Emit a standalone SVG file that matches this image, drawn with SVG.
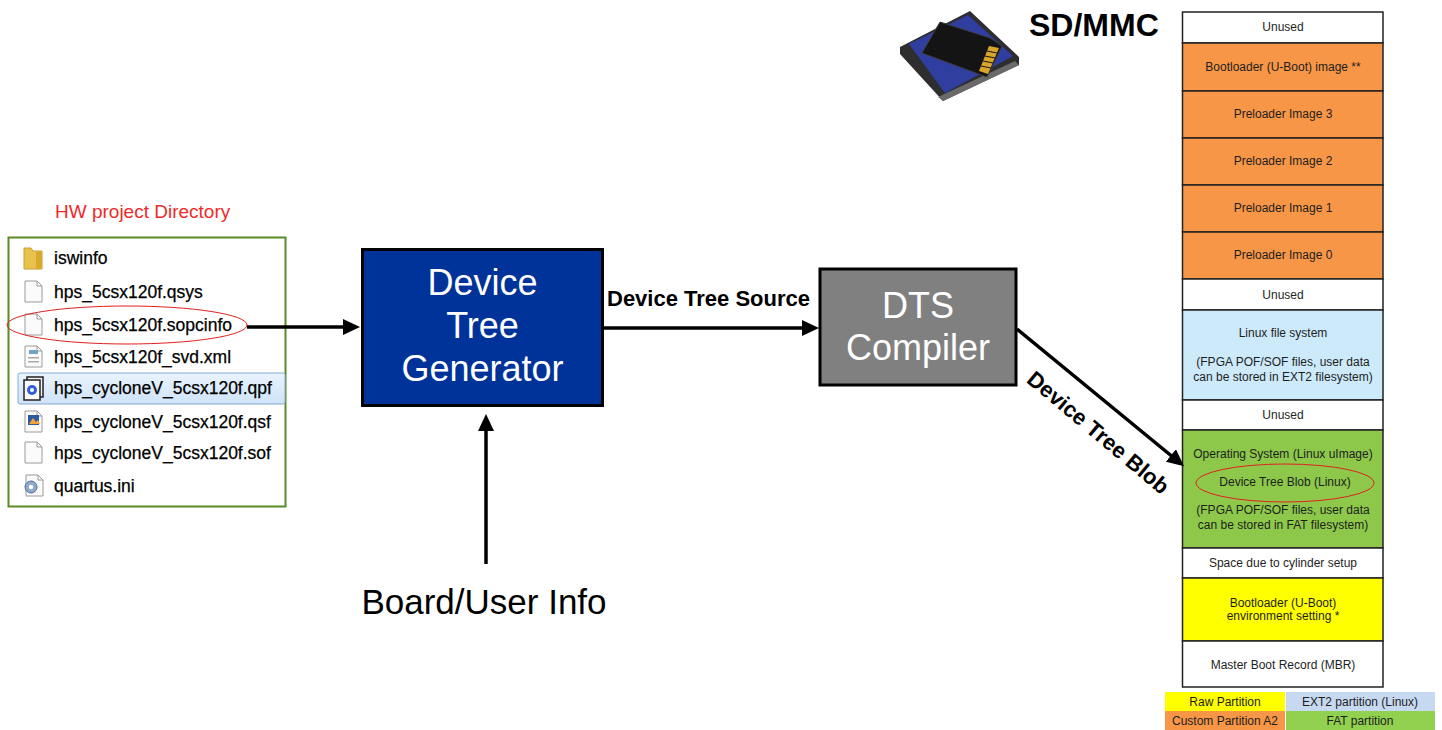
<svg xmlns="http://www.w3.org/2000/svg" width="1442" height="730" viewBox="0 0 1442 730">
  <style>
    .sans { font-family: "Liberation Sans", Arial, sans-serif; }
    .file { font-family: "Liberation Sans", Arial, sans-serif; font-size: 17.5px; fill: #000; stroke: #000; stroke-width: 0.25; }
    .big { font-family: "Liberation Sans", Arial, sans-serif; font-size: 36px; fill: #ffffff; text-anchor: middle; }
    .lbl { font-family: "Liberation Sans", Arial, sans-serif; font-size: 22px; font-weight: bold; fill: #000; }
    .cell { stroke: #222; stroke-width: 1.5; }
    .ct { font-family: "Liberation Sans", Arial, sans-serif; font-size: 12px; fill: #1e1e1e; text-anchor: middle; }
    .doc { fill: #fbfbfb; stroke: #9a9a9a; stroke-width: 1; }
    .conn { stroke: #000; stroke-width: 3.5; fill: none; marker-end: url(#arrow); }
  </style>
  <defs>
    <marker id="arrow" markerUnits="userSpaceOnUse" markerWidth="18" markerHeight="16" refX="4" refY="8" orient="auto">
      <path d="M0,0 L17,8 L0,16 z" fill="#000"/>
    </marker>
    <linearGradient id="sel" x1="0" y1="0" x2="0" y2="1">
      <stop offset="0" stop-color="#eaf3fd"/>
      <stop offset="1" stop-color="#cfe3f8"/>
    </linearGradient>
    <g id="docIcon">
      <path class="doc" d="M0,0 H12 L17,5 V21 H0 Z"/>
      <path d="M12,0 V5 H17" fill="none" stroke="#9a9a9a" stroke-width="1"/>
    </g>
  </defs>

  <rect width="1442" height="730" fill="#ffffff"/>

  <!-- HW project directory listing -->
  <g id="hw-project">
    <text class="sans" x="55" y="218" font-size="19" fill="#f02a2a">HW project Directory</text>
    <rect x="8.5" y="237.5" width="277" height="269" fill="#ffffff" stroke="#5b8c23" stroke-width="2"/>
    <rect x="18" y="373" width="267" height="31" rx="2" fill="url(#sel)" stroke="#86abd9" stroke-width="1"/>
    <!-- folder -->
    <path d="M24,248 h7 l2,3 h9 v18 h-18 z" fill="#e9c24c" stroke="#c9a036" stroke-width="1"/>
    <rect x="36" y="252" width="6" height="17" fill="#d9a92e"/>
    <text class="file" x="54" y="264">iswinfo</text>
    <use href="#docIcon" x="25" y="281"/>
    <text class="file" x="54" y="298">hps_5csx120f.qsys</text>
    <use href="#docIcon" x="25" y="314"/>
    <text class="file" x="54" y="331">hps_5csx120f.sopcinfo</text>
    <use href="#docIcon" x="25" y="346"/>
    <rect x="29" y="350" width="9" height="4" fill="#6fa3c7"/>
    <rect x="28" y="357" width="11" height="1.5" fill="#aaa"/>
    <rect x="28" y="361" width="11" height="1.5" fill="#aaa"/>
    <text class="file" x="54" y="363">hps_5csx120f_svd.xml</text>
    <rect x="27" y="377" width="16" height="20" fill="#f4f4f4" stroke="#222" stroke-width="1.5"/>
    <rect x="24" y="380" width="16" height="20" fill="#fafafa" stroke="#222" stroke-width="1.5"/>
    <circle cx="32" cy="390" r="5" fill="#2f5fd0"/>
    <circle cx="32" cy="390" r="2" fill="#ffffff"/>
    <text class="file" x="54" y="394">hps_cycloneV_5csx120f.qpf</text>
    <use href="#docIcon" x="25" y="411"/>
    <rect x="28" y="415" width="11" height="10" fill="#2d5a9e"/>
    <path d="M29,424 l4,-6 l3,4 l2,-2 l2,4 z" fill="#f2a23a"/>
    <text class="file" x="54" y="428">hps_cycloneV_5csx120f.qsf</text>
    <use href="#docIcon" x="25" y="442"/>
    <text class="file" x="54" y="459">hps_cycloneV_5csx120f.sof</text>
    <use href="#docIcon" x="26" y="475"/>
    <circle cx="31" cy="487" r="6" fill="#8fa9c9" stroke="#4e6f99" stroke-width="1"/>
    <circle cx="31" cy="487" r="2.2" fill="#ffffff"/>
    <text class="file" x="54" y="492">quartus.ini</text>
    <ellipse cx="127" cy="325" rx="120" ry="19" fill="none" stroke="#e02020" stroke-width="1"/>
  </g>

  <!-- generator block -->
  <g id="dt-generator">
    <rect x="362.5" y="249.5" width="240" height="156" fill="#003399" stroke="#000" stroke-width="3"/>
    <text class="big" x="482.5" y="295">Device</text>
    <text class="big" x="482.5" y="338">Tree</text>
    <text class="big" x="482.5" y="381">Generator</text>
  </g>

  <!-- compiler block -->
  <g id="dts-compiler">
    <rect x="820" y="269" width="196" height="116" fill="#808080" stroke="#000" stroke-width="3"/>
    <text class="big" x="918" y="318">DTS</text>
    <text class="big" x="918" y="360">Compiler</text>
  </g>

  <g id="board-info">
    <text class="sans" x="484" y="614" font-size="35" text-anchor="middle" fill="#000">Board/User Info</text>
  </g>

  <!-- memory card picture: CF card with an SD card lying on it -->
  <g id="sd-card">
    <path d="M900,47 L970,11 L1019,57 L1019,65 L943,101 L900,54 Z" fill="#2e2e2e"/>
    <path d="M909,44 L968,15 L1013,56 L945,93 Z" fill="#2f3e9f"/>
    <path d="M938,97 L1015,61 L1019,65 L943,101 Z" fill="#6a6a6a"/>
    <path d="M922,53 L940,22 L990,38 L1002,46 L987,77 Z" fill="#141414" stroke="#3a3a3a" stroke-width="1"/>
    <path d="M989,46 L999,48 L988,74 L979,71 Z" fill="#d8a42a"/>
    <path d="M987,51 L997,53 M985,56 L995,58 M983,61 L993,63 M981,66 L991,68" stroke="#141414" stroke-width="1"/>
    <text class="sans" x="1029" y="36" font-size="32" font-weight="bold" fill="#000">SD/MMC</text>
  </g>

  <!-- card layout column -->
  <g id="card-layout">
    <rect class="cell" x="1182.5" y="12" width="200.5" height="31" fill="#ffffff"/>
    <rect class="cell" x="1182.5" y="43" width="200.5" height="48" fill="#f79646"/>
    <rect class="cell" x="1182.5" y="91" width="200.5" height="47" fill="#f79646"/>
    <rect class="cell" x="1182.5" y="138" width="200.5" height="47" fill="#f79646"/>
    <rect class="cell" x="1182.5" y="185" width="200.5" height="47" fill="#f79646"/>
    <rect class="cell" x="1182.5" y="232" width="200.5" height="47" fill="#f79646"/>
    <rect class="cell" x="1182.5" y="279" width="200.5" height="31" fill="#ffffff"/>
    <rect class="cell" x="1182.5" y="310" width="200.5" height="90" fill="#cdeafb"/>
    <rect class="cell" x="1182.5" y="400" width="200.5" height="30" fill="#ffffff"/>
    <rect class="cell" x="1182.5" y="430" width="200.5" height="118" fill="#8dc84a"/>
    <rect class="cell" x="1182.5" y="548" width="200.5" height="30" fill="#ffffff"/>
    <rect class="cell" x="1182.5" y="578" width="200.5" height="63" fill="#ffff00"/>
    <rect class="cell" x="1182.5" y="641" width="200.5" height="46" fill="#ffffff"/>

    <text class="ct" x="1283" y="31">Unused</text>
    <text class="ct" x="1283" y="71">Bootloader (U-Boot) image **</text>
    <text class="ct" x="1283" y="118">Preloader Image 3</text>
    <text class="ct" x="1283" y="165">Preloader Image 2</text>
    <text class="ct" x="1283" y="212">Preloader Image 1</text>
    <text class="ct" x="1283" y="259">Preloader Image 0</text>
    <text class="ct" x="1283" y="299">Unused</text>
    <text class="ct" x="1283" y="337">Linux file system</text>
    <text class="ct" x="1283" y="366">(FPGA POF/SOF files, user data</text>
    <text class="ct" x="1283" y="381">can be stored in EXT2 filesystem)</text>
    <text class="ct" x="1283" y="419">Unused</text>
    <text class="ct" x="1283" y="458">Operating System (Linux uImage)</text>
    <text class="ct" x="1285" y="486">Device Tree Blob (Linux)</text>
    <text class="ct" x="1283" y="514">(FPGA POF/SOF files, user data</text>
    <text class="ct" x="1283" y="529">can be stored in FAT filesystem)</text>
    <ellipse cx="1285" cy="483" rx="89" ry="19" fill="none" stroke="#e02020" stroke-width="1"/>
    <text class="ct" x="1283" y="567">Space due to cylinder setup</text>
    <text class="ct" x="1283" y="607">Bootloader (U-Boot)</text>
    <text class="ct" x="1283" y="620">environment setting *</text>
    <text class="ct" x="1283" y="669">Master Boot Record (MBR)</text>
  </g>

  <!-- colour key -->
  <g id="legend">
    <rect x="1165" y="692" width="120" height="19" fill="#ffff00"/>
    <rect x="1286" y="692" width="149" height="19" fill="#c6d9f1"/>
    <rect x="1165" y="711" width="120" height="19" fill="#f79646"/>
    <rect x="1286" y="711" width="149" height="19" fill="#92d050"/>
    <text class="ct" x="1225" y="706">Raw Partition</text>
    <text class="ct" x="1360" y="706">EXT2 partition (Linux)</text>
    <text class="ct" x="1225" y="725">Custom Partition A2</text>
    <text class="ct" x="1360" y="725">FAT partition</text>
  </g>

  <!-- connectors -->
  <g id="connectors">
    <line class="conn" x1="247" y1="327" x2="347" y2="327"/>
    <line class="conn" x1="486" y1="564" x2="486" y2="427"/>
    <line class="conn" x1="604" y1="328" x2="806" y2="328"/>
    <line class="conn" x1="1017" y1="329" x2="1174" y2="458"/>
    <text class="lbl" x="607" y="306">Device Tree Source</text>
    <text class="lbl" transform="translate(1098,433) rotate(40)" x="0" y="7" text-anchor="middle">Device Tree Blob</text>
  </g>
</svg>
